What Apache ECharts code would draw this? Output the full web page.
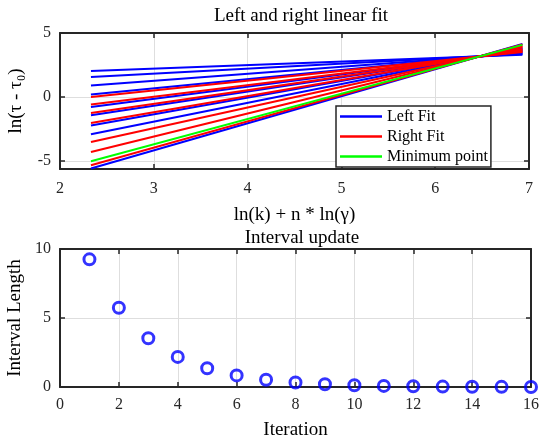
<!DOCTYPE html>
<html><head><meta charset="utf-8">
<script src="https://cdn.jsdelivr.net/npm/echarts@6/dist/echarts.min.js"></script>
<style>html,body{margin:0;padding:0;background:#fff}#c{width:539px;height:440px}</style>
</head><body><div id="c"></div>
<script>
// ---- top plot data: each fit line from xStart to xEnd ----
const fitXStart = 2.33;
const fitXEnd = 6.93;
const fitType = ['Left Fit','Left Fit','Left Fit','Left Fit','Right Fit','Right Fit','Left Fit','Right Fit','Left Fit','Right Fit','Left Fit','Left Fit','Right Fit','Right Fit','Minimum point','Right Fit','Left Fit'];
const fitLeftY  = [2.03, 1.56, 0.89, 0.19, 0.0, -0.59, -0.78, -1.25, -1.43, -2.03, -2.23, -2.91, -3.52, -4.30, -5.02, -5.34, -5.59];
const fitRightY = [3.30, 3.35, 3.42, 3.50, 3.52, 3.58, 3.60, 3.66, 3.68, 3.75, 3.77, 3.84, 3.91, 3.99, 4.07, 4.11, 4.14];
const topYTicks = [-5, 0, 5];
// ---- bottom plot data ----
const iterations = [1,2,3,4,5,6,7,8,9,10,11,12,13,14,15,16];
const intervalLength = [9.25, 5.74, 3.53, 2.18, 1.36, 0.84, 0.53, 0.33, 0.20, 0.13, 0.08, 0.05, 0.03, 0.02, 0.01, 0.005];

const FONT = '"Liberation Serif","Times New Roman",serif';
const DARK = '#262626';
const GRIDC = '#dedede';
const colorOf = {'Left Fit':'#0000ff','Right Fit':'#ff0000','Minimum point':'#00ff00'};

const chart = echarts.init(document.getElementById('c'), null, {renderer:'canvas'});

function frameAxis(extra){
  return Object.assign({
    axisLine:{show:true,onZero:false,lineStyle:{color:DARK,width:2}},
    axisTick:{show:true,inside:true,length:5,lineStyle:{color:DARK,width:1.5}},
    axisLabel:{show:false},
    splitLine:{show:false}
  }, extra);
}
function mainAxisLabel(m){return {show:true,color:'#262626',fontFamily:FONT,fontSize:16,margin:m};}

const series = [];
const order = ['Left Fit','Right Fit','Minimum point'];
order.forEach(t=>{
  fitType.forEach((ft,i)=>{
    if(ft!==t) return;
    series.push({
      type:'line', name:ft, xAxisIndex:0, yAxisIndex:0,
      symbol:'none', silent:true, animation:false,
      lineStyle:{color:colorOf[ft],width:2},
      itemStyle:{color:colorOf[ft]},
      data:[[fitXStart,fitLeftY[i]],[fitXEnd,fitRightY[i]]]
    });
  });
});
series.push({
  type:'scatter', name:'Interval', xAxisIndex:2, yAxisIndex:2,
  symbol:'circle', symbolSize:11, clip:false, animation:false,
  itemStyle:{color:'rgba(0,0,0,0)',borderColor:'#0000ff',borderWidth:3},
  data: iterations.map((x,i)=>[x,intervalLength[i]])
});

const option = {
  backgroundColor:'#fff',
  animation:false,
  title:[
    {text:'Left and right linear fit',left:296,top:2,textAlign:'center',textStyle:{fontFamily:FONT,fontSize:19,fontWeight:'normal',color:'#000'}},
    {text:'Interval update',left:297,top:224,textAlign:'center',textStyle:{fontFamily:FONT,fontSize:19,fontWeight:'normal',color:'#000'}}
  ],
  legend:{
    orient:'vertical', left:336, top:106,
    data:['Left Fit','Right Fit','Minimum point'],
    icon:'rect',
    itemWidth:42, itemHeight:2.5, itemGap:3,
    padding:[2,3,2,4],
    backgroundColor:'#fff', borderColor:DARK, borderWidth:1.5,
    textStyle:{fontFamily:FONT,fontSize:16,color:'#000',lineHeight:17},
    selectedMode:false
  },
  grid:[
    {left:60,top:33,width:469,height:136,outerBoundsMode:'none',containLabel:false},
    {left:60,top:249,width:471,height:138,outerBoundsMode:'none',containLabel:false}
  ],
  xAxis:[
    frameAxis({type:'value',gridIndex:0,position:'bottom',min:2,max:7,interval:1,
      axisLabel:mainAxisLabel(12),
      splitLine:{show:true,lineStyle:{color:GRIDC,width:1}},
      name:'ln(k) + n * ln(γ)',nameLocation:'middle',nameGap:37,
      nameTextStyle:{fontFamily:FONT,fontSize:19,color:'#000'}}),
    frameAxis({type:'value',gridIndex:0,position:'top',min:2,max:7,interval:1}),
    frameAxis({type:'value',gridIndex:1,position:'bottom',min:0,max:16,interval:2,
      axisLabel:mainAxisLabel(10),
      splitLine:{show:true,lineStyle:{color:GRIDC,width:1}},
      name:'Iteration',nameLocation:'middle',nameGap:34,
      nameTextStyle:{fontFamily:FONT,fontSize:19,color:'#000'}}),
    frameAxis({type:'value',gridIndex:1,position:'top',min:0,max:16,interval:2})
  ],
  yAxis:[
    frameAxis({type:'value',gridIndex:0,position:'left',min:-5.63,max:5,
      axisTick:{show:true,inside:true,length:5,lineStyle:{color:DARK,width:1.5},customValues:topYTicks},
      axisLabel:Object.assign(mainAxisLabel(9),{customValues:topYTicks}),
      splitLine:{show:true,lineStyle:{color:GRIDC,width:1}},
      name:'ln(τ - τ₀)',nameLocation:'middle',nameGap:34,
      nameTextStyle:{fontFamily:FONT,fontSize:19,color:'#000'}}),
    frameAxis({type:'value',gridIndex:0,position:'right',min:-5.63,max:5,
      axisTick:{show:true,inside:true,length:5,lineStyle:{color:DARK,width:1.5},customValues:topYTicks}}),
    frameAxis({type:'value',gridIndex:1,position:'left',min:0,max:10,interval:5,
      axisLabel:mainAxisLabel(9),
      splitLine:{show:true,lineStyle:{color:GRIDC,width:1}},
      name:'Interval Length',nameLocation:'middle',nameGap:29,
      nameTextStyle:{fontFamily:FONT,fontSize:19,color:'#000'}}),
    frameAxis({type:'value',gridIndex:1,position:'right',min:0,max:10,interval:5})
  ],
  series: series
};
chart.setOption(option);
</script></body></html>
